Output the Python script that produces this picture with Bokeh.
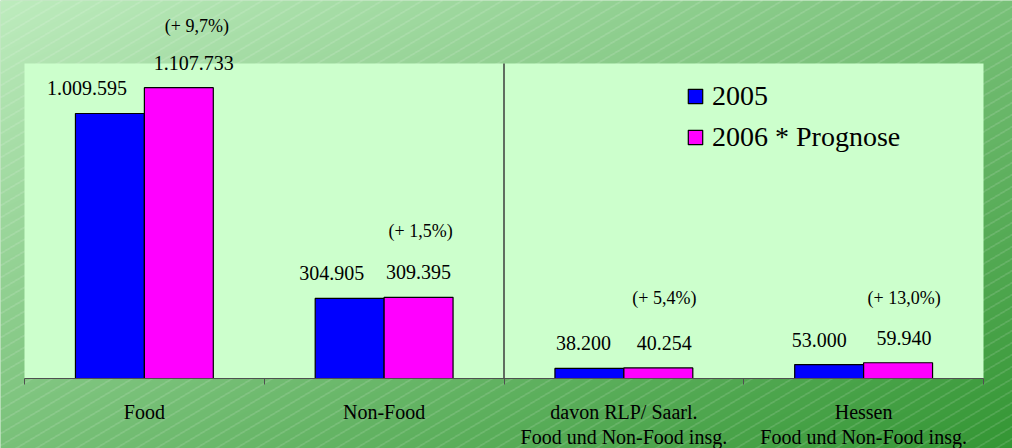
import numpy as np
from bokeh.plotting import figure
from bokeh.models import (Range1d, FixedTicker, BoxAnnotation, Legend,
                          LegendItem, ColumnDataSource)
from bokeh.core.properties import value
from bokeh.embed import file_html
from bokeh.resources import INLINE

# ---- data ----
categories = ["Food", "Non-Food",
              "davon RLP/ Saarl.\nFood und Non-Food insg.",
              "Hessen\nFood und Non-Food insg."]
values_2005 = [1009595, 304905, 38200, 53000]
values_2006 = [1107733, 309395, 40254, 59940]
labels_2005 = ["1.009.595", "304.905", "38.200", "53.000"]
labels_2006 = ["1.107.733", "309.395", "40.254", "59.940"]
change_labels = ["(+ 9,7%)", "(+ 1,5%)", "(+ 5,4%)", "(+ 13,0%)"]
series_names = ["2005", "2006 * Prognose"]
y_max = 1200000

# ---- layout / style ----
W, H = 1012, 448
FL, FR, FT, FB = 24, 983, 63, 378      # plot-area box on the canvas (px)
FONT = "Liberation Serif"
BAR_W = 0.575
nudge_2005 = [-23, -18, -6, -10]
nudge_2006 = [15, 0, 6, 6]
nudge_change = [18, 2, 6, 6]
lift_change = [-62, -66, -70, -65]

ncat = len(categories)
centers = [2 * i + 1 for i in range(ncat)]
x05 = [c - BAR_W / 2 for c in centers]
x06 = [c + BAR_W / 2 for c in centers]

# ranges chosen so that the plot box lands on FL..FR / FT..FB of the canvas
xu = (FR - FL) / (2 * ncat)
yu = (FB - FT) / y_max
x_range = Range1d(-FL / xu, 2 * ncat + (W - FR) / xu)
y_range = Range1d(-(H - FB) / yu, y_max + FT / yu)

src = ColumnDataSource(dict(x05=x05, x06=x06, v05=values_2005, v06=values_2006,
                            l05=labels_2005, l06=labels_2006, ch=change_labels,
                            n05=nudge_2005, n06=nudge_2006, nch=nudge_change,
                            lch=lift_change))

p = figure(width=W, height=H, output_backend="svg", toolbar_location=None,
           x_range=x_range, y_range=y_range, y_axis_location=None, title=None,
           min_border=0)
p.outline_line_color = None
p.xgrid.visible = False
p.ygrid.visible = False
p.background_fill_color = "#8fcf8f"
p.border_fill_color = "#8fcf8f"

# ---- background: diagonal green gradient with faint white stripes ----
yy, xx = np.mgrid[0:H, 0:W].astype(float)
t = 0.5 * xx / W + 0.5 * yy / H
c0 = np.array([190, 236, 190], float)
c1 = np.array([52, 150, 52], float)
rgb = c0[None, None, :] + (c1 - c0)[None, None, :] * t[..., None]
stripe = ((yy + 0.6 * xx) % 12.0) < 1.0
rgb[stripe] = rgb[stripe] * 0.75 + 255 * 0.25
img = np.empty((H, W), dtype=np.uint32)
view = img.view(dtype=np.uint8).reshape((H, W, 4))
view[..., :3] = np.clip(rgb, 0, 255).astype(np.uint8)
view[..., 3] = 255
img = img[::-1]
p.image_rgba(image=[img], x=x_range.start, y=y_range.start,
             dw=x_range.end - x_range.start, dh=y_range.end - y_range.start,
             level="image")

# plot area
p.add_layout(BoxAnnotation(left=0, right=2 * ncat, bottom=0, top=y_max,
                           fill_color="#ccffcc", fill_alpha=1, line_color=None,
                           level="underlay"))

r1 = p.vbar(x="x05", top="v05", width=BAR_W, source=src, fill_color="#0000ff",
            line_color="black", line_width=1.2)
r2 = p.vbar(x="x06", top="v06", width=BAR_W, source=src, fill_color="#ff00ff",
            line_color="black", line_width=1.2)

# divider between the two groups
p.segment(x0=[ncat], y0=[0], x1=[ncat], y1=[y_max], line_color="#3c3c3c",
          line_width=1.5)

common = dict(source=src, text_font=value(FONT), text_color="black",
              text_align="center", text_baseline="middle")
p.text(x="x05", y="v05", text="l05", y_offset=-25, x_offset="n05",
       text_font_size="20px", **common)
p.text(x="x06", y="v06", text="l06", y_offset=-25, x_offset="n06",
       text_font_size="20px", **common)
p.text(x="x06", y="v06", text="ch", y_offset="lch", x_offset="nch",
       text_font_size="18px", **common)

ax = p.xaxis[0]
ax.fixed_location = 0
ax.bounds = (0, 2 * ncat)
ax.ticker = FixedTicker(ticks=centers, minor_ticks=list(range(0, 2 * ncat + 1, 2)))
ax.major_label_overrides = {c: lab for c, lab in zip(centers, categories)}
ax.major_tick_line_color = None
ax.major_tick_out = 0
ax.major_tick_in = 0
ax.minor_tick_out = 6
ax.minor_tick_in = 0
ax.minor_tick_line_color = "#505050"
ax.axis_line_color = "#505050"
ax.major_label_text_font = FONT
ax.major_label_text_font_size = "20px"
ax.major_label_text_color = "black"
ax.major_label_text_line_height = 1.15
ax.major_label_standoff = 16

legend = Legend(items=[LegendItem(label=series_names[0], renderers=[r1]),
                       LegendItem(label=series_names[1], renderers=[r2])],
                location=(686, 295), label_text_font=FONT,
                label_text_font_size="28px", label_text_color="black",
                glyph_width=18, glyph_height=18,
                background_fill_alpha=0, border_line_color=None, padding=0,
                margin=0, spacing=9, label_standoff=8)
p.add_layout(legend)

open("out.html", "w").write(file_html(p, INLINE))
